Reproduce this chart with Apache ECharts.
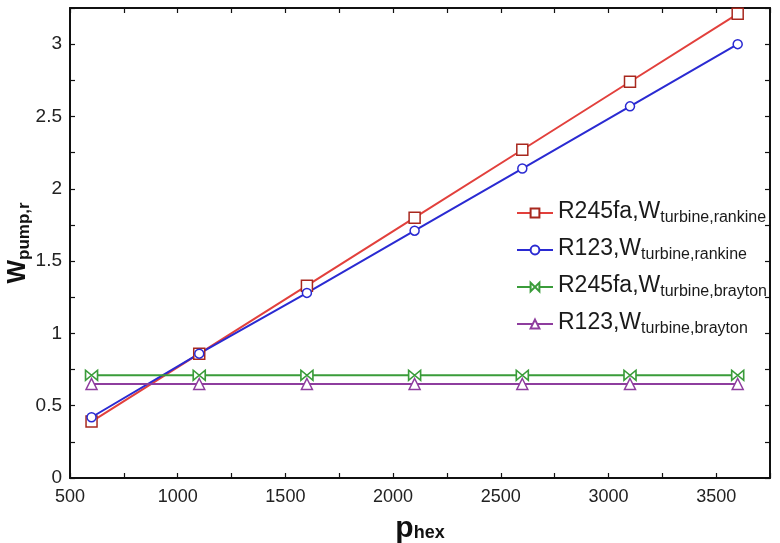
<!DOCTYPE html>
<html>
<head>
<meta charset="utf-8">
<script src="https://cdn.jsdelivr.net/npm/echarts@6/dist/echarts.min.js"></script>
<style>
  html, body { margin: 0; padding: 0; background: #fff; }
  #chart { width: 780px; height: 543px; }
</style>
</head>
<body>
<div id="chart"></div>
<script>
// Heat-exchanger pressure (x) and pump work ratio for each fluid / turbine pairing
const pressures = [600, 1100, 1600, 2100, 2600, 3100, 3600];
const r245faRankine = [0.39, 0.86, 1.33, 1.80, 2.27, 2.74, 3.21];
const r123Rankine   = [0.42, 0.86, 1.28, 1.71, 2.14, 2.57, 3.00];
const r245faBrayton = [0.71, 0.71, 0.71, 0.71, 0.71, 0.71, 0.71];
const r123Brayton   = [0.65, 0.65, 0.65, 0.65, 0.65, 0.65, 0.65];

const seriesNames = [
  'R245fa,Wturbine,rankine',
  'R123,Wturbine,rankine',
  'R245fa,Wturbine,brayton',
  'R123,Wturbine,brayton'
];
// main part / subscript part of each legend entry
const legendParts = {
  'R245fa,Wturbine,rankine': ['R245fa,W', 'turbine,rankine'],
  'R123,Wturbine,rankine':   ['R123,W', 'turbine,rankine'],
  'R245fa,Wturbine,brayton': ['R245fa,W', 'turbine,brayton'],
  'R123,Wturbine,brayton':   ['R123,W', 'turbine,brayton']
};

const bowtie = 'path://M0,0 L10,5 L0,10 Z M20,0 L10,5 L20,10 Z';
const font = 'Liberation Sans, Arial, sans-serif';

function pairs(ys) { return pressures.map((x, i) => [x, ys[i]]); }

function makeSeries(name, ys, color, edge, symbol, size) {
  return {
    name: name,
    type: 'line',
    data: pairs(ys),
    symbol: symbol,
    symbolSize: size,
    showAllSymbol: true,
    lineStyle: { color: color, width: 2 },
    itemStyle: { color: '#fff', borderColor: edge, borderWidth: 1.5 },
    emphasis: { disabled: true },
    z: 3
  };
}

const chart = echarts.init(document.getElementById('chart'), null, { renderer: 'canvas' });

const axisCommon = {
  axisLine: { show: true, onZero: false, lineStyle: { color: '#111', width: 2 } },
  axisTick: { show: true, inside: true, length: 5, lineStyle: { color: '#111', width: 1.2 } },
  splitLine: { show: false }
};

chart.setOption({
  animation: false,
  backgroundColor: '#fff',
  grid: { left: 70, right: 10, top: 8, bottom: 65, containLabel: false, outerBoundsMode: 'none' },
  legend: {
    data: seriesNames,
    orient: 'vertical',
    left: 511,
    top: 195,
    itemWidth: 36,
    itemHeight: 11,
    itemGap: 11,
    selectedMode: false,
    formatter: function (name) {
      const p = legendParts[name];
      return '{a|' + p[0] + '}{b|' + p[1] + '}';
    },
    textStyle: {
      rich: {
        a: { fontFamily: font, fontSize: 23, color: '#1a1a1a', lineHeight: 26, verticalAlign: 'top' },
        b: { fontFamily: font, fontSize: 16, color: '#1a1a1a', lineHeight: 18, verticalAlign: 'top', padding: [10, 0, 0, 0] }
      }
    }
  },
  xAxis: [
    Object.assign({}, axisCommon, {
      type: 'value',
      position: 'bottom',
      min: 500, max: 3750, interval: 250,
      axisLabel: {
        fontFamily: font, fontSize: 18, color: '#222', margin: 10,
        formatter: v => (v % 500 === 0 && v <= 3500) ? String(v) : ''
      },
      name: '{a|p}{b|hex}',
      nameLocation: 'middle',
      nameGap: 36,
      nameMoveOverlap: false,
      nameTextStyle: {
        rich: {
          a: { fontFamily: font, fontSize: 30, fontWeight: 'bold', color: '#111', lineHeight: 30, verticalAlign: 'top' },
          b: { fontFamily: font, fontSize: 18, fontWeight: 'bold', color: '#111', lineHeight: 18, verticalAlign: 'top', padding: [10, 0, 0, 0] }
        }
      }
    }),
    Object.assign({}, axisCommon, {
      type: 'value',
      position: 'top',
      min: 500, max: 3750, interval: 250,
      axisLabel: { show: false }
    })
  ],
  yAxis: [
    Object.assign({}, axisCommon, {
      type: 'value',
      position: 'left',
      min: 0, max: 3.25, interval: 0.25,
      axisLabel: {
        fontFamily: font, fontSize: 19, color: '#222', margin: 8,
        formatter: v => (Math.abs(v * 2 - Math.round(v * 2)) < 1e-9 && v <= 3) ? String(+v.toFixed(2)) : ''
      },
      name: '{a|W}{b|pump,r}',
      nameLocation: 'middle',
      nameGap: 38,
      nameRotate: 90,
      nameMoveOverlap: false,
      nameTextStyle: {
        rich: {
          a: { fontFamily: font, fontSize: 25, fontWeight: 'bold', color: '#111', lineHeight: 26, verticalAlign: 'top' },
          b: { fontFamily: font, fontSize: 17, fontWeight: 'bold', color: '#111', lineHeight: 18, verticalAlign: 'top', padding: [10, 0, 0, 0] }
        }
      }
    }),
    Object.assign({}, axisCommon, {
      type: 'value',
      position: 'right',
      min: 0, max: 3.25, interval: 0.25,
      axisLabel: { show: false }
    })
  ],
  series: [
    makeSeries(seriesNames[0], r245faRankine, '#e2403c', '#a8281e', 'rect', 11),
    makeSeries(seriesNames[1], r123Rankine, '#2a2ad2', '#2a2ad2', 'circle', 9),
    makeSeries(seriesNames[2], r245faBrayton, '#3a9c3a', '#3a9c3a', bowtie, [12, 10]),
    makeSeries(seriesNames[3], r123Brayton, '#8e3d9e', '#8e3d9e', 'triangle', 11)
  ]
});
</script>
</body>
</html>
